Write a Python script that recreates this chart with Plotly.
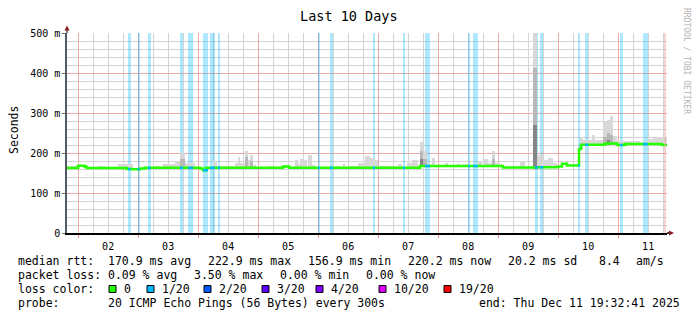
import numpy as np
import pandas as pd
import plotly.graph_objects as go

# ---------------- data ----------------
window_end = pd.Timestamp("2025-12-11 19:32:41")
window_hours = 240
window_start = window_end - pd.Timedelta(hours=window_hours)

# median rtt (ms), step series; breakpoints in hours since window start
median_h = [0.0, 4.4, 7.2, 8.0, 24.0, 26.0, 29.2, 31.2, 53.2, 54.4, 55.6, 86.4, 88.8,
            141.2, 174.4, 188.0, 196.4, 198.0, 200.0, 204.8, 205.6, 215.2, 220.0, 223.2, 238.0]
median_ms = [162.5, 168, 165, 162.5, 160, 159.5, 161.5, 163, 161, 157, 163, 166.5, 163,
             167.5, 164, 164.5, 166, 173, 168.5, 210, 220.5, 224, 220, 222.5, 220.2]

# smoke (spread of the 20 pings), segments in hours since window start
smoke_start_h = [0.0, 12.4, 20.4, 35.2, 38.4, 43.2, 45.2, 47.2, 58.4, 60.0, 63.2, 67.2, 68.4, 69.2,
                 71.2, 72.4, 73.2, 74.4, 81.2, 86.4, 91.2, 92.4, 93.2, 94.4, 96.4, 98.0, 107.2, 110.4,
                 112.4, 116.4, 119.2, 121.2, 123.2, 124.4, 132.4, 136.0, 138.0, 141.2, 142.4, 144.0,
                 146.0, 151.2, 156.0, 159.2, 164.4, 166.4, 168.4, 170.0, 171.2, 181.2, 186.4, 188.0,
                 190.4, 192.4, 194.4, 205.2, 206.4, 210.0, 211.2, 214.4, 216.0, 217.2, 218.4, 220.0,
                 226.4, 229.2, 232.4, 234.4]
smoke_end_h = [4.4, 15.2, 26.4, 37.2, 43.2, 45.2, 47.2, 51.2, 60.0, 63.2, 67.2, 68.4, 69.2, 71.2,
               72.4, 73.2, 74.4, 75.6, 83.2, 89.2, 92.4, 93.2, 94.4, 96.0, 98.0, 99.2, 109.2, 111.2,
               116.4, 119.2, 121.2, 123.2, 124.4, 132.0, 134.0, 138.0, 140.4, 142.4, 144.0, 145.2,
               147.2, 152.4, 157.2, 161.2, 166.0, 168.4, 170.0, 171.2, 173.2, 183.2, 188.0, 190.4,
               192.4, 194.4, 196.0, 206.4, 210.0, 211.2, 214.4, 216.0, 217.2, 218.4, 220.0, 226.4,
               229.2, 232.4, 234.4, 240.0]
smoke_top_ms = [168, 168, 172, 168, 173, 181, 200, 175, 179, 167,
                168, 175, 191, 175, 206, 183, 196, 170, 168, 170,
                183, 172, 186, 183, 196, 170, 168, 173, 168, 176,
                193, 187, 183, 167, 172, 176, 183, 227, 204, 175,
                187, 175, 173, 172, 179, 185, 174, 205, 174, 180,
                500, 196, 183, 187, 175, 240, 233, 246, 233, 279,
                283, 293, 242, 229, 231, 227, 235, 237]
smoke_mid_ms = [0, 0, 0, 0, 0, 0, 185, 0, 0, 0,
                0, 0, 0, 0, 190, 0, 180, 0, 0, 0,
                0, 0, 0, 0, 0, 0, 0, 0, 0, 0,
                0, 0, 0, 0, 0, 0, 0, 205, 185, 0,
                0, 0, 0, 0, 0, 0, 0, 185, 0, 0,
                413, 0, 0, 0, 0, 0, 0, 0, 0, 240,
                250, 245, 0, 0, 0, 0, 0, 0]
smoke_core_ms = [0] * 37 + [185] + [0] * 12 + [270] + [0] * 9 + [232] + [0] * 7

# packet loss periods (hours since window start) and lost pings out of 20
loss_start_h = [24.4, 28.2, 32.4, 45.2, 48.4, 54.4, 57.2, 60.4, 100.4, 105.2, 122.3, 134.3,
                143.2, 160.5, 162.5, 187.2, 189.2, 204.5, 207.2, 221.2, 230.5]
loss_end_h = [25.4, 29.0, 33.4, 46.4, 50.4, 56.4, 59.2, 61.2, 101.2, 106.4, 123.2, 135.2,
              145.2, 161.2, 164.3, 188.5, 190.5, 205.2, 208.5, 222.3, 232.3]
loss_count = [1] * 21

y_tick_vals = [0, 100, 200, 300, 400, 500]
y_tick_text = ["0", "100 m", "200 m", "300 m", "400 m", "500 m"]

loss_levels = ["0", "1/20", "2/20", "3/20", "4/20", "10/20", "19/20"]
loss_level_colors = ["#26ff00", "#00b8ff", "#0059ff", "#5e00ff", "#7e00ff", "#dd00ff", "#ff0000"]

rtt_stats = ["170.9 ms avg", "222.9 ms max", "156.9 ms min", "220.2 ms now", "20.2 ms sd", "8.4", "am/s"]
loss_stats = ["0.09 % avg", "3.50 % max", "0.00 % min", "0.00 % now"]
probe_text = "20 ICMP Echo Pings (56 Bytes) every 300s"
end_text = "end: Thu Dec 11 19:32:41 2025"
title_text = "Last 10 Days"

# ---------------- helpers ----------------
MONO = "DejaVu Sans Mono"


def ts(h):
    return window_start + pd.to_timedelta(np.asarray(h, dtype=float), unit="h")


def median_at(h):
    idx = np.searchsorted(np.asarray(median_h), h, side="right") - 1
    return float(np.asarray(median_ms)[max(idx, 0)])


L, T, W, H = 67, 33, 600, 200


def px(x):
    return (x - L) / W


def py(y):
    return (T + H - y) / H


fig = go.Figure()

# loss background stripes
ls = np.asarray(loss_start_h)
le = np.asarray(loss_end_h)
fig.add_trace(go.Bar(x=ts((ls + le) / 2), y=[500] * len(ls), base=[0] * len(ls),
                     width=(le - ls) * 3600 * 1000,
                     marker=dict(color="rgba(0,184,255,0.32)", line=dict(width=0)),
                     hoverinfo="skip"))

# smoke
ss = np.asarray(smoke_start_h)
se = np.asarray(smoke_end_h)
mid_h = (ss + se) / 2
bottoms = np.array([median_at(h) - 3 for h in ss])
for tops, col in [(smoke_top_ms, "#d8d8d8"), (smoke_mid_ms, "#b8b8b8"), (smoke_core_ms, "#858585")]:
    tops = np.asarray(tops, dtype=float)
    m = tops > 0
    fig.add_trace(go.Bar(x=ts(mid_h[m]), y=(tops - bottoms)[m], base=bottoms[m],
                         width=((se - ss) * 3600 * 1000)[m],
                         marker=dict(color=col, line=dict(width=0)), hoverinfo="skip"))

# median line
mh = list(median_h) + [window_hours]
mv = list(median_ms) + [median_ms[-1]]
fig.add_trace(go.Scatter(x=ts(mh), y=mv, mode="lines",
                         line=dict(color=loss_level_colors[0], width=2.5, shape="hv"),
                         hoverinfo="skip"))

# median coloured by loss
bx, by = [], []
for s, e, c in zip(loss_start_h, loss_end_h, loss_count):
    v = median_at(s)
    bx += [ts([s])[0], ts([e])[0], None]
    by += [v, v, None]
fig.add_trace(go.Scatter(x=bx, y=by, mode="lines",
                         line=dict(color=loss_level_colors[1], width=2.5), hoverinfo="skip"))

fig.update_layout(
    width=697, height=321, margin=dict(l=L, r=697 - L - W, t=T, b=321 - T - H),
    paper_bgcolor="white", plot_bgcolor="white", showlegend=False,
    barmode="overlay", bargap=0,
    xaxis=dict(type="date", range=[str(window_start), str(window_end)],
               tick0="2025-12-02", dtick=86400000, tickformat="%d", ticklabelmode="period",
               showgrid=True, gridcolor="#f0a8a8", gridwidth=1,
               ticks="outside", ticklen=3, tickcolor="#f08a8a",
               minor=dict(tick0="2025-12-02", dtick=6 * 3600000, showgrid=True,
                          gridcolor="#d4d4d4", ticks=""),
               showline=True, linecolor="black", linewidth=1.5, zeroline=False,
               tickfont=dict(family=MONO, size=10, color="black"), fixedrange=True),
    yaxis=dict(range=[0, 500], tickmode="array", tickvals=y_tick_vals, ticktext=y_tick_text,
               showgrid=True, gridcolor="#f0a8a8", gridwidth=1,
               minor=dict(tick0=0, dtick=20, showgrid=True, gridcolor="#d4d4d4", ticks=""),
               ticks="outside", ticklen=3, tickcolor="#707070",
               showline=True, linecolor="#4e5b66", linewidth=1.5, zeroline=False,
               tickfont=dict(family=MONO, size=10, color="black"), fixedrange=True),
)

# axis arrows and end rule
fig.add_shape(type="line", xref="paper", yref="paper", x0=px(67), x1=px(67), y0=py(33), y1=py(29),
              line=dict(color="#4e5b66", width=1.5))
fig.add_shape(type="path", xref="paper", yref="paper",
              path=f"M {px(64.5)},{py(30.5)} L {px(69.5)},{py(30.5)} L {px(67)},{py(25.5)} Z",
              fillcolor="#8b1a1a", line=dict(width=0))
fig.add_shape(type="line", xref="paper", yref="paper", x0=px(667), x1=px(670), y0=py(233), y1=py(233),
              line=dict(color="black", width=1.5))
fig.add_shape(type="path", xref="paper", yref="paper",
              path=f"M {px(669)},{py(230.5)} L {px(669)},{py(235.5)} L {px(674)},{py(233)} Z",
              fillcolor="#8b1a1a", line=dict(width=0))
fig.add_shape(type="line", xref="paper", yref="paper", x0=px(665), x1=px(665), y0=0, y1=1,
              line=dict(color="#f0a8a8", width=1))


def text(x, y, s, size=11.5, color="black", angle=0, anchor="left"):
    fig.add_annotation(x=px(x), y=py(y), xref="paper", yref="paper",
                       text=s.replace(" ", "\u00a0"), showarrow=False,
                       xanchor=anchor, yanchor="middle", borderpad=0,
                       font=dict(family=MONO, size=size, color=color), textangle=angle)


text(349, 16, title_text, size=13.5, anchor="center")
text(14, 130, "Seconds", size=11.5, angle=-90, anchor="center")
text(687, 61, "RRDTOOL / TOBI OETIKER", size=8, color="#b4b4b4", angle=90, anchor="center")

# legend lines
text(17, 261, "median rtt:")
for x, s in zip([107, 207, 307, 407, 507, 598, 635], rtt_stats):
    text(x, 261, s)
text(17, 275, "packet loss:")
for x, s in zip([107, 193, 279, 365], loss_stats):
    text(x, 275, s)
text(17, 289, "loss color:")
for sx, s, c in zip([109, 147, 204, 262, 316, 379, 444], loss_levels, loss_level_colors):
    fig.add_shape(type="rect", xref="paper", yref="paper", x0=px(sx), x1=px(sx + 7),
                  y0=py(285.5), y1=py(292.5), fillcolor=c, line=dict(color="black", width=1))
    text(sx + 14, 289, s)
text(17, 303, "probe:")
text(107, 303, probe_text)
text(478, 303, end_text)

fig.write_html("out.html")
